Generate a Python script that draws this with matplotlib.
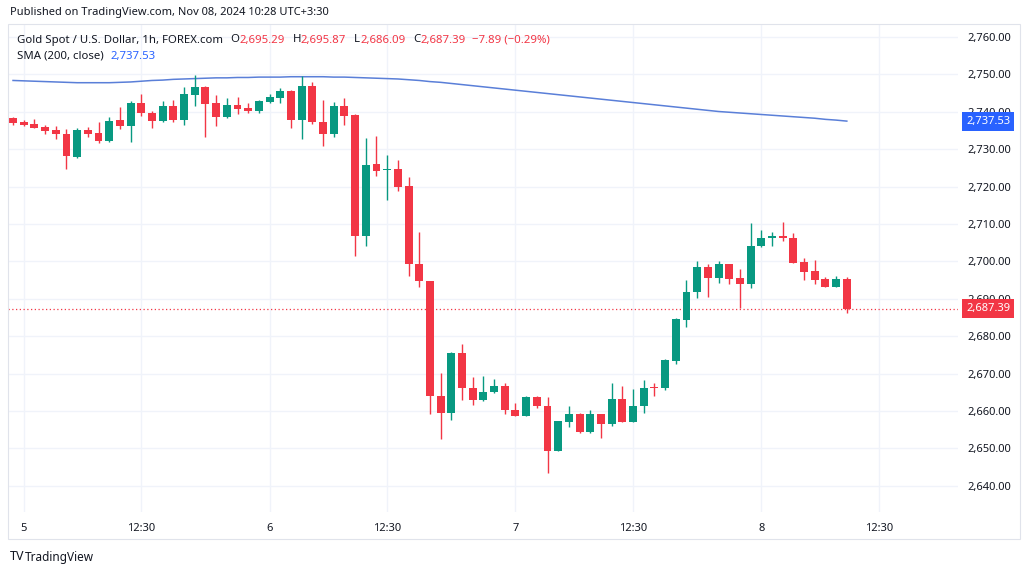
import matplotlib
matplotlib.use("Agg")
import matplotlib.pyplot as plt
import matplotlib.transforms as mtransforms
from matplotlib.patches import Rectangle

# Datos (XAU/USD 1h, FOREX.com)
opens = [2738.3, 2737.3, 2736.7, 2735.9, 2735.1, 2734.1, 2728.0, 2735.1, 2734.4, 2732.3,
         2737.8, 2736.3, 2742.3, 2739.8, 2737.5, 2741.5, 2737.7, 2744.5, 2746.7, 2742.3,
         2738.7, 2741.8, 2741.1, 2740.2, 2742.7, 2743.8, 2745.7, 2737.8, 2746.9, 2737.4,
         2734.0, 2741.6, 2739.2, 2706.9, 2726.0, 2724.4, 2724.6, 2720.2, 2699.3, 2694.8,
         2664.0, 2659.6, 2675.6, 2666.1, 2663.0, 2665.2, 2666.7, 2660.3, 2658.8, 2663.8,
         2661.4, 2649.3, 2657.2, 2659.2, 2654.3, 2659.2, 2656.5, 2663.2, 2657.1, 2661.4,
         2666.4, 2666.1, 2673.5, 2684.3, 2691.7, 2698.6, 2695.7, 2699.3, 2695.5, 2694.1,
         2704.1, 2706.4, 2706.9, 2706.4, 2699.9, 2697.5, 2695.2, 2693.2, 2695.29]
highs = [2738.6, 2737.8, 2738.0, 2736.6, 2736.2, 2735.3, 2735.8, 2736.0, 2737.2, 2738.7,
         2741.4, 2743.0, 2744.9, 2740.3, 2742.9, 2743.2, 2746.7, 2749.8, 2746.9, 2744.5,
         2743.6, 2743.9, 2742.3, 2743.3, 2744.8, 2746.3, 2745.9, 2749.6, 2748.1, 2743.3,
         2742.7, 2743.6, 2739.5, 2733.1, 2733.6, 2728.5, 2727.1, 2722.7, 2707.8, 2694.9,
         2670.1, 2675.7, 2677.9, 2669.2, 2669.4, 2668.5, 2667.6, 2662.2, 2664.0, 2664.0,
         2663.8, 2657.4, 2661.3, 2659.4, 2660.4, 2659.3, 2667.4, 2666.7, 2665.9, 2668.3,
         2667.4, 2673.8, 2684.8, 2695.0, 2700.1, 2699.3, 2700.1, 2699.4, 2697.9, 2710.2,
         2708.4, 2708.0, 2710.6, 2707.5, 2700.8, 2700.4, 2695.9, 2696.2, 2695.87]
lows = [2736.5, 2736.2, 2735.6, 2734.2, 2732.8, 2724.6, 2727.6, 2733.2, 2731.8, 2732.0,
        2735.3, 2732.0, 2738.9, 2735.8, 2737.4, 2737.4, 2736.6, 2741.5, 2733.2, 2736.2,
        2738.3, 2739.3, 2739.6, 2739.6, 2742.5, 2742.3, 2735.6, 2732.7, 2736.7, 2731.0,
        2733.4, 2736.5, 2701.5, 2704.2, 2722.8, 2716.4, 2718.8, 2696.1, 2693.2, 2659.1,
        2652.4, 2657.6, 2662.9, 2661.6, 2662.8, 2664.9, 2659.2, 2658.7, 2658.7, 2660.9,
        2643.3, 2649.2, 2655.6, 2654.0, 2654.2, 2652.7, 2656.1, 2657.0, 2657.0, 2659.6,
        2664.0, 2665.6, 2672.5, 2682.4, 2690.1, 2690.6, 2694.3, 2694.1, 2687.5, 2693.0,
        2703.9, 2704.1, 2705.5, 2699.6, 2695.0, 2694.1, 2693.1, 2693.1, 2686.09]
closes = [2736.9, 2736.5, 2735.8, 2734.9, 2734.0, 2728.2, 2735.1, 2734.2, 2732.3, 2737.6,
          2736.2, 2742.3, 2739.6, 2737.5, 2741.5, 2737.7, 2744.7, 2746.7, 2742.0, 2738.7,
          2741.8, 2740.9, 2740.3, 2742.9, 2743.9, 2745.7, 2737.8, 2746.9, 2737.2, 2734.0,
          2741.6, 2739.0, 2706.9, 2725.8, 2724.2, 2724.6, 2720.0, 2699.2, 2694.9, 2664.0,
          2659.6, 2675.6, 2666.1, 2663.0, 2665.2, 2666.7, 2660.3, 2658.8, 2663.8, 2661.3,
          2649.3, 2657.3, 2659.2, 2654.3, 2659.2, 2656.5, 2663.2, 2657.1, 2661.4, 2666.2,
          2666.2, 2673.6, 2684.5, 2691.9, 2698.6, 2695.7, 2699.2, 2695.3, 2694.1, 2704.2,
          2706.2, 2706.9, 2706.2, 2699.7, 2697.3, 2695.0, 2693.2, 2695.2, 2687.39]
sma200 = [2748.4, 2748.3, 2748.2, 2748.1, 2748.0, 2747.9, 2747.8, 2747.8, 2747.8, 2747.8,
          2747.9, 2748.0, 2748.2, 2748.4, 2748.5, 2748.7, 2748.8, 2748.9, 2749.0, 2749.1,
          2749.1, 2749.2, 2749.2, 2749.3, 2749.3, 2749.3, 2749.4, 2749.4, 2749.4, 2749.4,
          2749.3, 2749.3, 2749.2, 2749.1, 2749.0, 2748.9, 2748.8, 2748.6, 2748.4, 2748.1,
          2747.9, 2747.6, 2747.3, 2747.0, 2746.7, 2746.4, 2746.1, 2745.8, 2745.5, 2745.2,
          2744.9, 2744.6, 2744.3, 2744.0, 2743.7, 2743.4, 2743.1, 2742.8, 2742.5, 2742.2,
          2741.9, 2741.6, 2741.3, 2741.0, 2740.7, 2740.4, 2740.1, 2739.9, 2739.7, 2739.5,
          2739.3, 2739.1, 2738.9, 2738.7, 2738.5, 2738.3, 2738.0, 2737.8, 2737.53]

time_ticks = [1, 12, 24, 35, 47, 58, 70, 81]
time_labels = ["5", "12:30", "6", "12:30", "7", "12:30", "8", "12:30"]
price_ticks = list(range(2640, 2761, 10))
last_price = 2687.39
sma_last = 2737.53

UP = "#089981"
DOWN = "#F23645"
TXT = "#131722"
SMA_COL = "#5A7FD8"
W, H = 1030, 574

plt.rcParams['font.family'] = ['Noto Sans', 'DejaVu Sans']

fig = plt.figure(figsize=(W / 100, H / 100), dpi=100)
fig.patch.set_facecolor("white")
ax = fig.add_axes([8 / W, 1 - 512 / H, 950 / W, 488 / H])

# velas
for i in range(len(opens)):
    o, h, l, c = opens[i], highs[i], lows[i], closes[i]
    col = UP if c >= o else DOWN
    ax.vlines(i, l, h, color=col, lw=1, zorder=3)
    ax.bar(i, max(abs(c - o), 0.35), bottom=min(o, c), width=0.74,
           color=col, edgecolor=col, lw=0, zorder=4)

ax.plot(range(len(sma200)), sma200, color=SMA_COL, lw=1.1, zorder=2)
ax.axhline(last_price, color=DOWN, ls=(0, (1, 2)), lw=0.9, zorder=1)

ax.set_xlim(-0.47, 88.4)
ax.set_ylim(2633.0, 2763.5)
ax.set_xticks(time_ticks)
ax.set_xticklabels(time_labels)
ax.set_yticks(price_ticks)
ax.set_yticklabels([f"{p:,.2f}" for p in price_ticks])
ax.yaxis.tick_right()
ax.tick_params(axis="both", length=0, labelsize=8, colors=TXT)
ax.tick_params(axis="y", pad=7)
ax.tick_params(axis="x", pad=8)
ax.grid(color="#F0F3FA", lw=1)
ax.set_axisbelow(True)
for s in ax.spines.values():
    s.set_visible(False)

# etiquetas de precio a la derecha (tapan parte de la escala, como en el original)
tr = mtransforms.blended_transform_factory(ax.transAxes, ax.transData)
ax.text(1 + 8 / 950, sma_last, f"{sma_last:,.2f}", transform=tr, color="white",
        fontsize=8, va="center", ha="left", zorder=10,
        bbox=dict(boxstyle="square,pad=0.35", fc="#2962FF", ec="none"))
ax.text(1 + 8 / 950, last_price, f"{last_price:,.2f}", transform=tr, color="white",
        fontsize=8, va="center", ha="left", zorder=10,
        bbox=dict(boxstyle="square,pad=0.35", fc=DOWN, ec="none"))

# marco del grafico
fig.add_artist(Rectangle((8 / W, 1 - 539 / H), 1012 / W, 515 / H, transform=fig.transFigure,
                         fill=False, ec="#E0E3EB", lw=0.8))

renderer = fig.canvas.get_renderer()


def put_row(parts, x, y, size=8):
    for s, col, gap in parts:
        t = fig.text(x / W, 1 - y / H, s, color=col, fontsize=size, va="center", ha="left")
        bb = t.get_window_extent(renderer=renderer)
        x = bb.x1 + gap


put_row([("Published on TradingView.com, Nov 08, 2024 10:28 UTC+3:30", TXT, 0)], 10, 13)
put_row([("Gold Spot / U.S. Dollar, 1h, FOREX.com", TXT, 7),
         ("O", TXT, 0), ("2,695.29", DOWN, 8),
         ("H", TXT, 0), ("2,695.87", DOWN, 8),
         ("L", TXT, 0), ("2,686.09", DOWN, 8),
         ("C", TXT, 0), ("2,687.39", DOWN, 6),
         ("\u22127.89 (\u22120.29%)", DOWN, 0)], 17, 40, size=8.2)
put_row([("SMA (200, close)", TXT, 7), ("2,737.53", "#2962FF", 0)], 17, 56, size=8.2)

# logo
put_row([("TV", TXT, 2)], 10, 557, size=9)
fig.texts[-1].set_fontweight("heavy")
put_row([("TradingView", TXT, 0)], 25, 557, size=8.5)

fig.savefig("out.png", dpi=100)
